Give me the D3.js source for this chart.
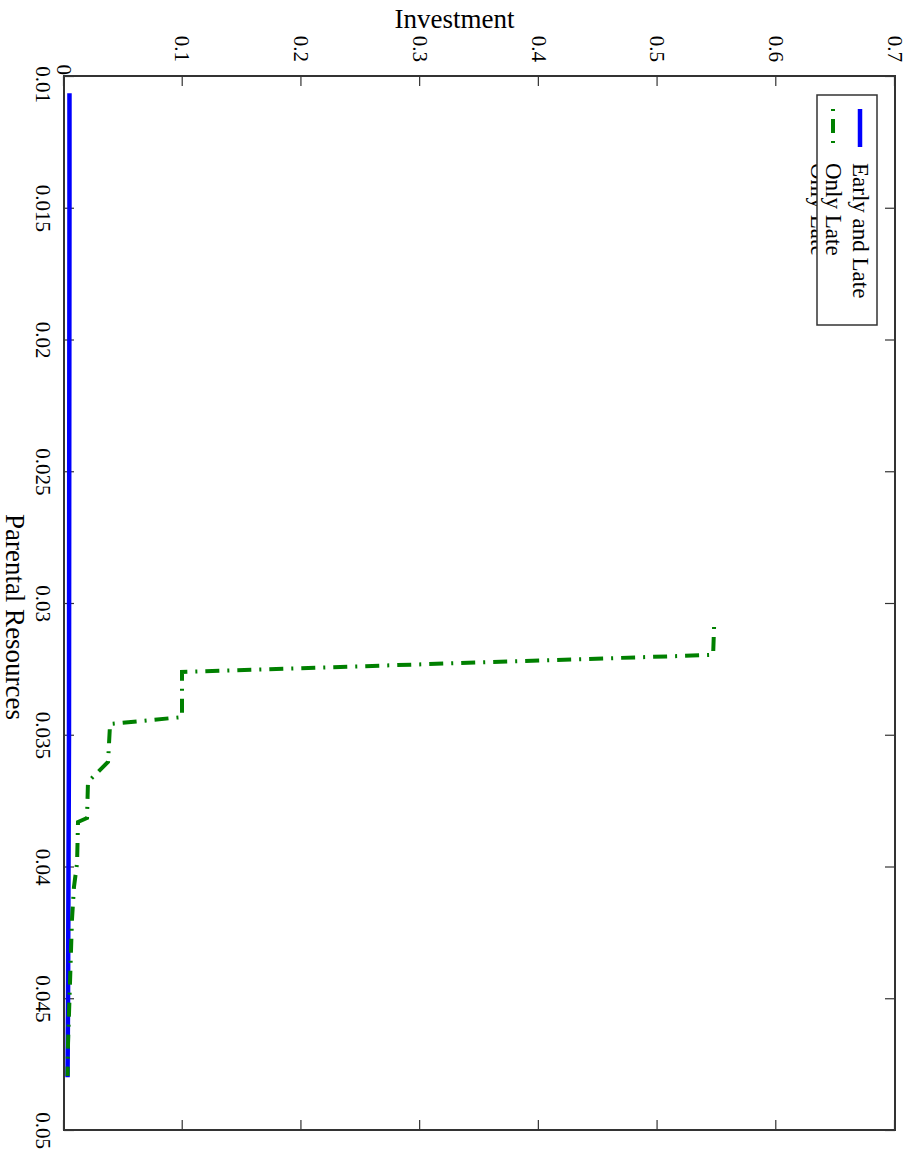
<!DOCTYPE html>
<html>
<head>
<meta charset="utf-8">
<script src="https://cdn.jsdelivr.net/npm/d3@7"></script>
<style>
  html, body { margin: 0; padding: 0; background: #fff; }
  svg { display: block; }
</style>
</head>
<body>
<script>
// ---------------- data ----------------
const resTicks = [0.01, 0.015, 0.02, 0.025, 0.03, 0.035, 0.04, 0.045, 0.05];
const resTickLabels = ["0.01", "0.015", "0.02", "0.025", "0.03", "0.035", "0.04", "0.045", "0.05"];
const invTicks = [0, 0.1, 0.2, 0.3, 0.4, 0.5, 0.6, 0.7];
const invTickLabels = ["0", "0.1", "0.2", "0.3", "0.4", "0.5", "0.6", "0.7"];

const seriesNames = ["Early and Late", "Only Late"];

// Early and Late (blue, solid)
const earlyRes = [0.01065, 0.015, 0.02, 0.025, 0.03, 0.035, 0.04, 0.045, 0.048];
const earlyInv = [0.0046, 0.0046, 0.0045, 0.0044, 0.0043, 0.0042, 0.0038, 0.0034, 0.0030];

// Only Late (green, dash-dot)
const lateRes = [0.03091, 0.03197, 0.03262, 0.03433, 0.03459, 0.03603, 0.03679, 0.03816, 0.03831, 0.03987, 0.04078, 0.04203, 0.04435, 0.04670, 0.04795];
const lateInv = [0.5476, 0.5468, 0.0994, 0.0994, 0.0388, 0.0371, 0.0202, 0.0194, 0.0118, 0.0110, 0.0084, 0.0067, 0.0051, 0.0034, 0.0030];

// ---------------- layout ----------------
const FONT = "'Liberation Serif', 'Times New Roman', serif";
const plotLeft = 64, plotTop = 76, plotScreenW = 831, plotScreenH = 1054;

const svg = d3.select("body").append("svg")
  .attr("width", 911).attr("height", 1153);
svg.append("rect").attr("width", 911).attr("height", 1153).attr("fill", "#fff");

// Chart drawn in a standard frame, then rotated 90deg clockwise
const W = plotScreenH;   // resources axis length (local x)
const H = plotScreenW;   // investment axis length (local y)
const g = svg.append("g")
  .attr("transform", `translate(${plotLeft + plotScreenW},${plotTop}) rotate(90)`);

const x = d3.scaleLinear().domain([0.01, 0.05]).range([0, W]);
const y = d3.scaleLinear().domain([0, 0.7]).range([H, 0]);

function styleAxis(sel) {
  sel.select(".domain").remove();
  sel.selectAll(".tick line").attr("stroke", "#333").attr("stroke-width", 1.2);
  sel.selectAll(".tick text").attr("fill", "#000");
  sel.attr("font-family", FONT).attr("font-size", 21);
}

// bottom (screen left) axis: Parental Resources
const gx = g.append("g").attr("transform", `translate(0,${H})`)
  .call(d3.axisBottom(x).tickValues(resTicks)
    .tickFormat((d, i) => resTickLabels[i]).tickSize(-10).tickSizeOuter(0).tickPadding(13))
  .call(styleAxis);
gx.selectAll(".tick text").filter((d, i) => i === 0).attr("dx", 8);

// left (screen top) axis: Investment
const gy = g.append("g")
  .call(d3.axisLeft(y).tickValues(invTicks)
    .tickFormat((d, i) => invTickLabels[i]).tickSize(-10).tickSizeOuter(0).tickPadding(14))
  .call(styleAxis);
gy.selectAll(".tick text").filter((d, i) => i === 0).attr("x", -1);

// mirror ticks (no labels)
g.append("g")
  .call(d3.axisTop(x).tickValues(resTicks).tickFormat("").tickSize(-10).tickSizeOuter(0))
  .call(styleAxis);
g.append("g").attr("transform", `translate(${W},0)`)
  .call(d3.axisRight(y).tickValues(invTicks).tickFormat("").tickSize(-10).tickSizeOuter(0))
  .call(styleAxis);

// frame
g.append("rect").attr("x", 0).attr("y", 0).attr("width", W).attr("height", H)
  .attr("fill", "none").attr("stroke", "#333").attr("stroke-width", 2);

// lines
const line = d3.line().x(d => x(d[0])).y(d => y(d[1]));
const earlyData = earlyRes.map((r, i) => [r, earlyInv[i]]);
const lateData = lateRes.map((r, i) => [r, lateInv[i]]);

g.append("path").datum(earlyData).attr("d", line)
  .attr("fill", "none").attr("stroke", "#0000ff").attr("stroke-width", 4.5);
g.append("path").datum(lateData).attr("d", line)
  .attr("fill", "none").attr("stroke", "#008000").attr("stroke-width", 4)
  .attr("stroke-dasharray", "14,8,2,8").attr("stroke-dashoffset", 22);

// legend
const lg = g.append("g").attr("font-family", FONT).attr("font-size", 23);
// ghost text partly hidden behind the legend box
lg.append("text").attr("x", 87).attr("y", 84).text(seriesNames[1]).attr("fill", "#000");
lg.append("rect").attr("x", 19).attr("y", 18).attr("width", 230).attr("height", 60)
  .attr("fill", "#fff").attr("stroke", "#333").attr("stroke-width", 1.5);
lg.append("line").attr("x1", 33).attr("x2", 71).attr("y1", 35).attr("y2", 35)
  .attr("stroke", "#0000ff").attr("stroke-width", 4.5);
lg.append("text").attr("x", 87).attr("y", 42).text(seriesNames[0]);
lg.append("line").attr("x1", 33).attr("x2", 71).attr("y1", 62).attr("y2", 62)
  .attr("stroke", "#008000").attr("stroke-width", 4)
  .attr("stroke-dasharray", "14,8,2,8").attr("stroke-dashoffset", 22);
lg.append("text").attr("x", 87).attr("y", 69).text(seriesNames[1]);

// axis titles
svg.append("text").attr("x", plotLeft + plotScreenW / 2 - 25).attr("y", 28)
  .attr("text-anchor", "middle").attr("font-family", FONT).attr("font-size", 27)
  .text("Investment");
svg.append("text")
  .attr("transform", `translate(6,${plotTop + plotScreenH / 2 + 14}) rotate(90)`)
  .attr("text-anchor", "middle").attr("font-family", FONT).attr("font-size", 27)
  .text("Parental Resources");
</script>
</body>
</html>
